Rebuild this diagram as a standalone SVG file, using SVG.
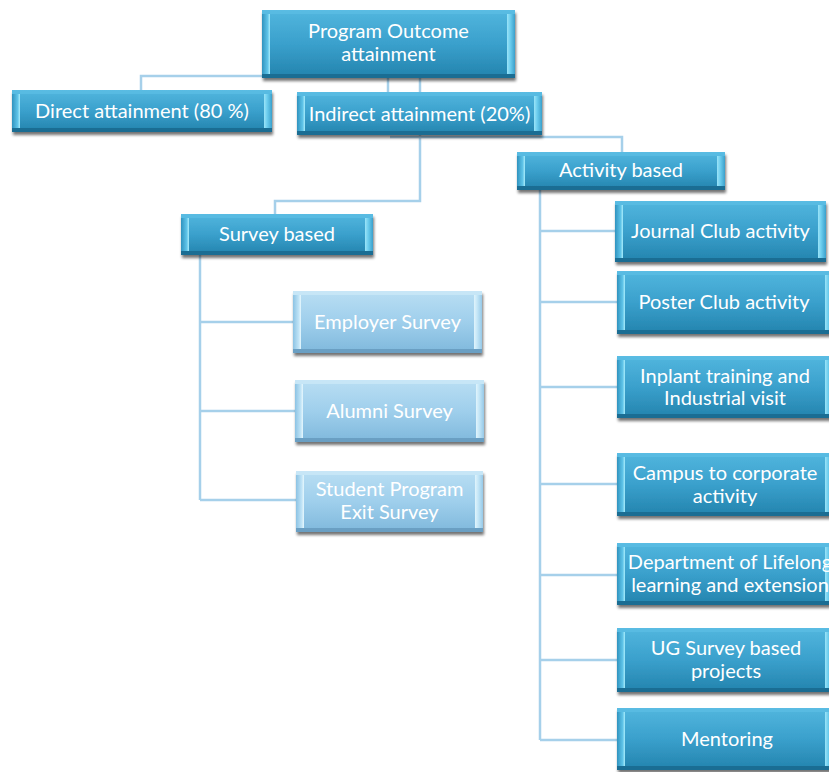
<svg xmlns="http://www.w3.org/2000/svg" width="829" height="772" viewBox="0 0 829 772">
<defs>
<linearGradient id="gMain" x1="0" y1="0" x2="0" y2="1">
<stop offset="0" stop-color="#52b6de"/><stop offset="0.5" stop-color="#3aa0cc"/><stop offset="1" stop-color="#2383ad"/>
</linearGradient>
<linearGradient id="gLight" x1="0" y1="0" x2="0" y2="1">
<stop offset="0" stop-color="#b9def3"/><stop offset="0.5" stop-color="#9fcfec"/><stop offset="1" stop-color="#7fb8dc"/>
</linearGradient>
<linearGradient id="gL" x1="0" y1="0" x2="1" y2="0">
<stop offset="0" stop-color="#2f93bf"/><stop offset="0.7" stop-color="#5ec3e8"/><stop offset="1" stop-color="#a8ecfb"/>
</linearGradient>
<linearGradient id="gR" x1="0" y1="0" x2="1" y2="0">
<stop offset="0" stop-color="#9be4f8"/><stop offset="0.4" stop-color="#6ccdee"/><stop offset="1" stop-color="#3aa0cc"/>
</linearGradient>
<linearGradient id="gLL" x1="0" y1="0" x2="1" y2="0">
<stop offset="0" stop-color="#8cc3e4"/><stop offset="0.7" stop-color="#bfe3f6"/><stop offset="1" stop-color="#e6f7fd"/>
</linearGradient>
<linearGradient id="gRL" x1="0" y1="0" x2="1" y2="0">
<stop offset="0" stop-color="#e0f4fc"/><stop offset="0.4" stop-color="#c4e6f7"/><stop offset="1" stop-color="#96c9e8"/>
</linearGradient>
<filter id="sh" x="-5%" y="-10%" width="112%" height="130%">
<feGaussianBlur in="SourceAlpha" stdDeviation="1.5"/>
<feOffset dx="1" dy="2.5" result="o"/>
<feComponentTransfer><feFuncA type="linear" slope="0.55"/></feComponentTransfer>
<feMerge><feMergeNode/><feMergeNode in="SourceGraphic"/></feMerge>
</filter>
</defs>
<style>
.base{fill:url(#gMain);filter:url(#sh)}
.baseL{fill:url(#gLight);filter:url(#sh)}
.l{fill:url(#gL)}
.r{fill:url(#gR)}
.lL{fill:url(#gLL)}
.rL{fill:url(#gRL)}
.b{fill:#1a6d93}
.bL{fill:#6a9fc3}
.t{fill:#5fc0e6;opacity:0.6}
.tL{fill:#cde9f8;opacity:0.7}
text{font-family:Lato,"Open Sans","Liberation Sans",sans-serif;font-size:20px;fill:#ffffff;text-anchor:middle}
.con line,.con polyline{stroke:#a6d0ea;stroke-width:2.5;fill:none}
</style>
<rect width="829" height="772" fill="#ffffff"/>
<g class="con" id="connectors">
<polyline points="141,90 141,76 262,76"/>
<line x1="388" y1="78" x2="388" y2="92"/>
<line x1="420" y1="78" x2="420" y2="92"/>
<polyline points="390,137 622,137 622,152"/>
<polyline points="420,135 420,201 275,201 275,214"/>
<polyline points="200,255 200,500"/>
<line x1="200" y1="322" x2="293" y2="322"/>
<line x1="200" y1="411" x2="295" y2="411"/>
<line x1="200" y1="500" x2="296" y2="500"/>
<polyline points="540,190 540,740"/>
<line x1="540" y1="231" x2="615" y2="231"/>
<line x1="540" y1="302" x2="617" y2="302"/>
<line x1="540" y1="387" x2="617" y2="387"/>
<line x1="540" y1="484" x2="617" y2="484"/>
<line x1="540" y1="575" x2="617" y2="575"/>
<line x1="540" y1="660" x2="617" y2="660"/>
<line x1="540" y1="740" x2="617" y2="740"/>
</g>
<g id="po">
<rect class="base" x="262" y="10" width="253" height="68"/>
<rect class="t" x="262" y="10" width="253" height="4"/>
<rect class="l" x="262" y="14" width="8" height="60"/>
<rect class="r" x="507" y="14" width="8" height="60"/>
<rect class="b" x="262" y="74" width="253" height="4"/>
<text x="388.5" y="38">Program Outcome</text>
<text x="388.5" y="61">attainment</text>
</g>
<g id="direct">
<rect class="base" x="12" y="90" width="260" height="42"/>
<rect class="t" x="12" y="90" width="260" height="4"/>
<rect class="l" x="12" y="94" width="8" height="34"/>
<rect class="r" x="264" y="94" width="8" height="34"/>
<rect class="b" x="12" y="128" width="260" height="4"/>
<text x="142" y="118">Direct attainment (80 %)</text>
</g>
<g id="indirect">
<rect class="base" x="297" y="92" width="245" height="43"/>
<rect class="t" x="297" y="92" width="245" height="4"/>
<rect class="l" x="297" y="96" width="8" height="35"/>
<rect class="r" x="534" y="96" width="8" height="35"/>
<rect class="b" x="297" y="131" width="245" height="4"/>
<text x="419.5" y="121">Indirect attainment (20%)</text>
</g>
<g id="activity">
<rect class="base" x="517" y="152" width="208" height="38"/>
<rect class="t" x="517" y="152" width="208" height="4"/>
<rect class="l" x="517" y="156" width="8" height="30"/>
<rect class="r" x="717" y="156" width="8" height="30"/>
<rect class="b" x="517" y="186" width="208" height="4"/>
<text x="621" y="177">Activity based</text>
</g>
<g id="survey">
<rect class="base" x="181" y="214" width="192" height="41"/>
<rect class="t" x="181" y="214" width="192" height="4"/>
<rect class="l" x="181" y="218" width="8" height="33"/>
<rect class="r" x="365" y="218" width="8" height="33"/>
<rect class="b" x="181" y="251" width="192" height="4"/>
<text x="277" y="241">Survey based</text>
</g>
<g id="employer">
<rect class="baseL" x="293" y="291" width="189" height="62"/>
<rect class="tL" x="293" y="291" width="189" height="4"/>
<rect class="lL" x="293" y="295" width="8" height="54"/>
<rect class="rL" x="474" y="295" width="8" height="54"/>
<rect class="bL" x="293" y="349" width="189" height="4"/>
<text x="387.5" y="329">Employer Survey</text>
</g>
<g id="alumni">
<rect class="baseL" x="295" y="380" width="189" height="62"/>
<rect class="tL" x="295" y="380" width="189" height="4"/>
<rect class="lL" x="295" y="384" width="8" height="54"/>
<rect class="rL" x="476" y="384" width="8" height="54"/>
<rect class="bL" x="295" y="438" width="189" height="4"/>
<text x="389.5" y="418">Alumni Survey</text>
</g>
<g id="student">
<rect class="baseL" x="296" y="471" width="187" height="61"/>
<rect class="tL" x="296" y="471" width="187" height="4"/>
<rect class="lL" x="296" y="475" width="8" height="53"/>
<rect class="rL" x="475" y="475" width="8" height="53"/>
<rect class="bL" x="296" y="528" width="187" height="4"/>
<text x="389.5" y="496">Student Program</text>
<text x="389.5" y="519">Exit Survey</text>
</g>
<g id="journal">
<rect class="base" x="615" y="201" width="211" height="61"/>
<rect class="t" x="615" y="201" width="211" height="4"/>
<rect class="l" x="615" y="205" width="8" height="53"/>
<rect class="r" x="818" y="205" width="8" height="53"/>
<rect class="b" x="615" y="258" width="211" height="4"/>
<text x="720.5" y="238">Journal Club activity</text>
</g>
<g id="poster">
<rect class="base" x="617" y="271" width="216" height="63"/>
<rect class="t" x="617" y="271" width="216" height="4"/>
<rect class="l" x="617" y="275" width="8" height="55"/>
<rect class="r" x="825" y="275" width="8" height="55"/>
<rect class="b" x="617" y="330" width="216" height="4"/>
<text x="724" y="309">Poster Club activity</text>
</g>
<g id="inplant">
<rect class="base" x="617" y="356" width="216" height="62"/>
<rect class="t" x="617" y="356" width="216" height="4"/>
<rect class="l" x="617" y="360" width="8" height="54"/>
<rect class="r" x="825" y="360" width="8" height="54"/>
<rect class="b" x="617" y="414" width="216" height="4"/>
<text x="725" y="383">Inplant training and</text>
<text x="725" y="405">Industrial visit</text>
</g>
<g id="campus">
<rect class="base" x="617" y="453" width="216" height="63"/>
<rect class="t" x="617" y="453" width="216" height="4"/>
<rect class="l" x="617" y="457" width="8" height="55"/>
<rect class="r" x="825" y="457" width="8" height="55"/>
<rect class="b" x="617" y="512" width="216" height="4"/>
<text x="725" y="480">Campus to corporate</text>
<text x="725" y="503">activity</text>
</g>
<g id="dept">
<rect class="base" x="617" y="543" width="216" height="62"/>
<rect class="t" x="617" y="543" width="216" height="4"/>
<rect class="l" x="617" y="547" width="8" height="54"/>
<rect class="r" x="825" y="547" width="8" height="54"/>
<rect class="b" x="617" y="601" width="216" height="4"/>
<text x="730" y="569">Department of Lifelong</text>
<text x="730" y="592">learning and extension</text>
</g>
<g id="ug">
<rect class="base" x="617" y="628" width="216" height="64"/>
<rect class="t" x="617" y="628" width="216" height="4"/>
<rect class="l" x="617" y="632" width="8" height="56"/>
<rect class="r" x="825" y="632" width="8" height="56"/>
<rect class="b" x="617" y="688" width="216" height="4"/>
<text x="726" y="655">UG Survey based</text>
<text x="726" y="678">projects</text>
</g>
<g id="mentoring">
<rect class="base" x="617" y="708" width="216" height="62"/>
<rect class="t" x="617" y="708" width="216" height="4"/>
<rect class="l" x="617" y="712" width="8" height="54"/>
<rect class="r" x="825" y="712" width="8" height="54"/>
<rect class="b" x="617" y="766" width="216" height="4"/>
<text x="727" y="746">Mentoring</text>
</g>
</svg>
